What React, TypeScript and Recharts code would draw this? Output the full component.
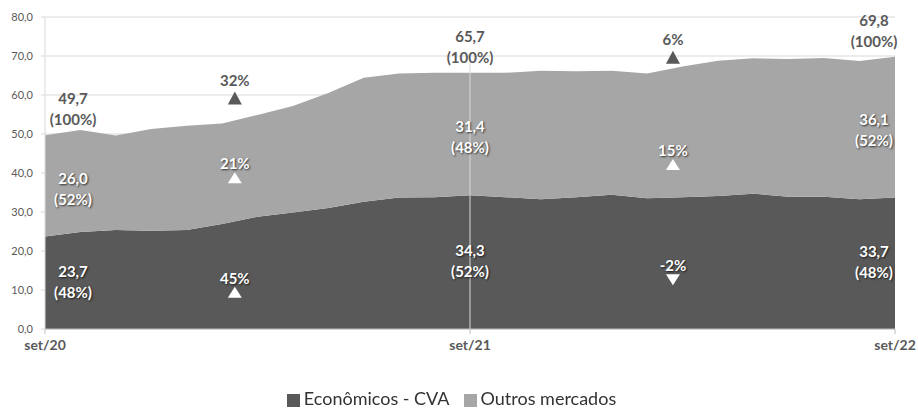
import React from "react";
import {
  AreaChart,
  Area,
  XAxis,
  YAxis,
  CartesianGrid,
  Legend,
  ReferenceDot,
  ReferenceLine,
} from "recharts";

// monthly series, set/20 .. set/22
const months = [
  "set/20", "out/20", "nov/20", "dez/20", "jan/21", "fev/21", "mar/21", "abr/21", "mai/21",
  "jun/21", "jul/21", "ago/21", "set/21", "out/21", "nov/21", "dez/21", "jan/22", "fev/22",
  "mar/22", "abr/22", "mai/22", "jun/22", "jul/22", "ago/22", "set/22",
];
const economicos = [
  23.7, 24.9, 25.4, 25.2, 25.4, 26.9, 28.8, 29.9, 31.0, 32.6, 33.7, 33.8, 34.3,
  33.8, 33.3, 33.8, 34.4, 33.5, 33.8, 34.1, 34.7, 33.9, 33.9, 33.3, 33.7,
];
const outros = [
  26.0, 26.1, 24.2, 26.1, 26.7, 25.8, 26.1, 27.3, 29.5, 31.8, 31.8, 31.9, 31.4,
  31.9, 32.9, 32.3, 31.8, 32.0, 33.5, 34.7, 34.7, 35.3, 35.6, 35.4, 36.1,
];
const xTicks = [0, 12, 24];
const yTicks = [0, 10, 20, 30, 40, 50, 60, 70, 80];
const labelPoints = [0, 12, 24];

// growth markers (x in month index, y in chart units)
const growthX = [5.36, 5.36, 5.36, 17.73, 17.73, 17.73];
const growthY = [59.2, 38.8, 9.4, 69.7, 42.2, 12.6];
const growthText = ["32%", "21%", "45%", "6%", "15%", "-2%"];
const growthUp = [true, true, true, true, true, false];
const growthDark = [true, false, false, true, false, false];

const DARK = "#595959";
const LIGHT = "#a6a6a6";
const FONT = "Lato, 'Open Sans', sans-serif";

const data = months.map((m, i) => ({ i, month: m, economicos: economicos[i], outros: outros[i] }));

const fmt = (n: number) => n.toFixed(1).replace(".", ",");
const pct = (a: number, b: number) => `(${Math.round((a / b) * 100)}%)`;

const shadow = { textShadow: "1px 1px 2px rgba(0,0,0,0.7)" };

function shiftFor(idx: number) {
  if (idx === 0) return 28;
  if (idx === months.length - 1) return -21;
  return 0;
}

function TwoLines({ cx, cy, a, b, color, dy, withShadow }: any) {
  const common = {
    textAnchor: "middle" as const,
    fill: color,
    fontFamily: FONT,
    fontWeight: 700,
    fontSize: 15,
    style: withShadow ? shadow : undefined,
  };
  return (
    <g>
      <text x={cx} y={cy + dy} {...common}>
        {a}
      </text>
      <text x={cx} y={cy + dy + 21} {...common}>
        {b}
      </text>
    </g>
  );
}

function Marker({ cx, cy, text, up, dark }: any) {
  const c = dark ? DARK : "#ffffff";
  const h = dark ? 13 : 11;
  const w = 7;
  const pts = up
    ? `${cx - w},${cy + h / 2} ${cx + w},${cy + h / 2} ${cx},${cy - h / 2}`
    : `${cx - w},${cy - h / 2} ${cx + w},${cy - h / 2} ${cx},${cy + h / 2}`;
  return (
    <g>
      <polygon points={pts} fill={c} />
      <text
        x={cx}
        y={cy - h / 2 - (dark ? 6 : 3)}
        textAnchor="middle"
        fill={c}
        fontFamily={FONT}
        fontWeight={700}
        fontSize={15}
        style={dark ? undefined : shadow}
      >
        {text}
      </text>
    </g>
  );
}

export default function App() {
  return (
    <div style={{ position: "fixed", left: 0, top: 0, width: 918, height: 408, background: "#fff" }}>
      <AreaChart
        width={918}
        height={408}
        data={data}
        margin={{ top: 17, right: 23, left: 0, bottom: 8 }}
      >
        <CartesianGrid vertical={false} stroke="#d9d9d9" />
        <XAxis
          dataKey="i"
          type="number"
          domain={[0, 24]}
          ticks={xTicks}
          tickFormatter={(v: number) => months[v]}
          height={49}
          stroke="#bfbfbf"
          tickSize={5}
          tickMargin={6}
          tick={{ fill: DARK, fontSize: 14, fontWeight: 700, fontFamily: FONT }}
        />
        <YAxis
          domain={[0, 80]}
          ticks={yTicks}
          width={45}
          tickFormatter={fmt}
          stroke="#d9d9d9"
          tickSize={4}
          tickMargin={8}
          tick={{ fill: DARK, fontSize: 11, fontFamily: FONT }}
        />
        <Legend
          verticalAlign="bottom"
          height={22}
          iconType="square"
          iconSize={13}
          wrapperStyle={{
            fontFamily: FONT,
            fontSize: 18,
            lineHeight: "18px",
            top: 389,
            bottom: "auto",
            left: 11,
          }}
          formatter={(v: string) => <span style={{ color: "#333333", marginRight: 4 }}>{v}</span>}
        />
        <Area
          type="linear"
          dataKey="economicos"
          name="Econômicos - CVA"
          stackId="a"
          stroke="none"
          fill={DARK}
          fillOpacity={1}
          isAnimationActive={false}
        />
        <Area
          type="linear"
          dataKey="outros"
          name="Outros mercados"
          stackId="a"
          stroke="none"
          fill={LIGHT}
          fillOpacity={1}
          isAnimationActive={false}
        />
        <ReferenceLine
          segment={[{ x: 12, y: 68.3 }, { x: 12, y: 0 }]}
          stroke="#d9d9d9"
          strokeWidth={1}
        />
        {labelPoints.map((idx) => {
          const e = economicos[idx];
          const o = outros[idx];
          const t = e + o;
          const s = shiftFor(idx);
          return (
            <React.Fragment key={idx}>
              <ReferenceDot
                x={idx}
                y={t}
                r={0}
                shape={(p: any) => (
                  <TwoLines cx={p.cx + s} cy={p.cy} a={fmt(t)} b="(100%)" color={DARK} dy={-31} />
                )}
              />
              <ReferenceDot
                x={idx}
                y={e + o / 2}
                r={0}
                shape={(p: any) => (
                  <TwoLines cx={p.cx + s} cy={p.cy} a={fmt(o)} b={pct(o, t)} color="#fff" dy={-2} withShadow />
                )}
              />
              <ReferenceDot
                x={idx}
                y={e / 2}
                r={0}
                shape={(p: any) => (
                  <TwoLines cx={p.cx + s} cy={p.cy} a={fmt(e)} b={pct(e, t)} color="#fff" dy={-6} withShadow />
                )}
              />
            </React.Fragment>
          );
        })}
        {growthX.map((gx, k) => (
          <ReferenceDot
            key={`g${k}`}
            x={gx}
            y={growthY[k]}
            r={0}
            shape={(p: any) => (
              <Marker cx={p.cx} cy={p.cy} text={growthText[k]} up={growthUp[k]} dark={growthDark[k]} />
            )}
          />
        ))}
      </AreaChart>
    </div>
  );
}
